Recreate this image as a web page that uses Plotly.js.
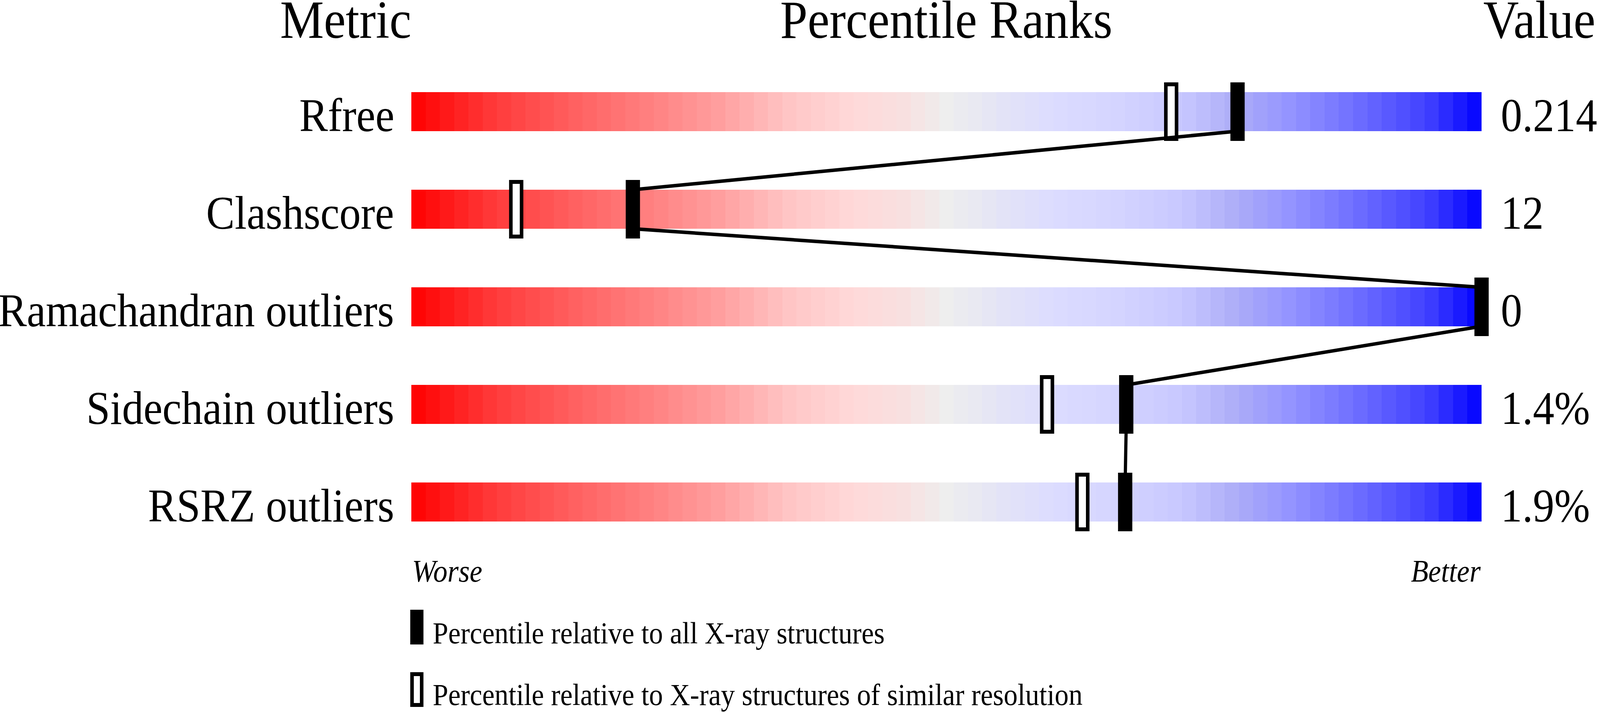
<!DOCTYPE html>
<html>
<head>
<meta charset="utf-8">
<script src="https://cdn.plot.ly/plotly-3.0.1.min.js"></script>
<style>
  html, body { margin: 0; padding: 0; background: #fff; overflow: hidden; }
  #slider { width: 4485px; height: 1824px; transform-origin: 0 0; }
</style>
</head>
<body>
<div id="slider"></div>
<script>
// Metric rows, top to bottom
const metrics = ["Rfree", "Clashscore", "Ramachandran outliers", "Sidechain outliers", "RSRZ outliers"];
const values = ["0.214", "12", "0", "1.4%", "1.9%"];
// Percentile relative to all X-ray structures (filled markers)
const pctAll = [77.2, 20.7, 100, 66.8, 66.7];
// Percentile relative to structures of similar resolution (open markers)
const pctSimilar = [71.0, 9.8, null, 59.4, 62.7];

// Colour ramp of the slider bars (worse -> better)
const rampPos = [0, 0.08, 0.16, 0.22, 0.29, 0.35, 0.41, 0.46, 0.5, 0.55, 0.6, 0.66, 0.72, 0.77, 0.82, 0.88, 0.95, 1];
const rampColors = ["#ff0000", "#ff3c3c", "#ff6464", "#ff7f7f", "#ffa0a0", "#ffc4c4", "#ffd8d8", "#f8e0e0", "#eeeeee",
                    "#e4e4f6", "#dcdcff", "#d4d4ff", "#c8c8ff", "#adadf8", "#9494ff", "#7070ff", "#4040ff", "#0000ff"];
const rampSteps = 75;

const font = "Liberation Serif, 'Times New Roman', serif";
const barHalf = 0.2;      // half bar thickness, in row units

// the chart is laid out at 4485 wide; squeeze it into the window if that is narrower
const fullW = 4485, fullH = 1824;
const sx = Math.min(1, window.innerWidth / fullW);
document.getElementById("slider").style.transform = "scale(" + sx + ", 1)";

// the bars themselves, one banded heatmap per metric
let edges = [];
let mids = [];
for (let i = 0; i <= rampSteps; i++) edges.push(i * 100 / rampSteps);
for (let i = 0; i < rampSteps; i++) mids.push((edges[i] + edges[i + 1]) / 2);
const colorscale = rampPos.map((p, i) => [p, rampColors[i]]);

let data = [];
metrics.forEach((m, k) => {
    data.push({
        type: "heatmap",
        x: edges,
        y: [k - barHalf, k + barHalf],
        z: [mids],
        zmin: 0, zmax: 100,
        colorscale: colorscale,
        showscale: false,
        hoverinfo: "skip"
    });
});

// open markers (similar resolution)
const rows = metrics.map((m, k) => k);
const simRows = rows.filter(k => pctSimilar[k] !== null);
data.push({
    type: "bar",
    orientation: "h",
    y: simRows,
    base: simRows.map(k => pctSimilar[k] - 0.5),
    x: simRows.map(() => 1.0),
    width: 0.56,
    marker: { color: "#ffffff", line: { color: "#000000", width: 10 } },
    cliponaxis: false,
    hoverinfo: "skip"
});
// filled markers (all X-ray structures)
data.push({
    type: "bar",
    orientation: "h",
    y: rows,
    base: pctAll.map(p => p - 0.667),
    x: pctAll.map(() => 1.333),
    width: 0.6,
    marker: { color: "#000000", line: { width: 0 } },
    cliponaxis: false,
    hoverinfo: "skip"
});

// line joining the filled markers: bottom edge of one bar to top edge of the next
let lx = [], ly = [];
pctAll.forEach((p, k) => {
    if (k > 0) { lx.push(p); ly.push(k - barHalf); }
    if (k < pctAll.length - 1) { lx.push(p); ly.push(k + barHalf); }
});
data.push({
    type: "scatter",
    mode: "lines",
    x: lx,
    y: ly,
    line: { color: "#000000", width: 9 },
    cliponaxis: false,
    hoverinfo: "skip"
});

let annotations = [];
metrics.forEach((m, k) => {
    annotations.push({
        text: m, xref: "x", x: 0, xanchor: "right", xshift: -46,
        yref: "y", y: k, yanchor: "middle", yshift: -9.5,
        showarrow: false, font: { family: font, size: 120, color: "#000" }
    });
    annotations.push({
        text: values[k], xref: "x", x: 100, xanchor: "left", xshift: 52,
        yref: "y", y: k, yanchor: "middle", yshift: -9.5,
        showarrow: false, font: { family: font, size: 120, color: "#000" }
    });
});

// column headers (paper units: plot area is 3030 px wide starting at 1153)
const headers = [["Metric", -0.0607, "center"], ["Percentile Ranks", 0.495, "center"], ["Value", 0.9911, "left"]];
headers.forEach(h => {
    annotations.push({
        text: h[0], xref: "paper", x: h[1], xanchor: h[2],
        yref: "paper", y: 1, yanchor: "middle", yshift: 111,
        showarrow: false, font: { family: font, size: 138, color: "#000" }
    });
});

// worse / better
annotations.push({
    text: "Worse", xref: "x", x: 0, xanchor: "left",
    yref: "paper", y: 0, yanchor: "middle", yshift: -52,
    showarrow: false, font: { family: font, size: 80, style: "italic", color: "#000" }
});
annotations.push({
    text: "Better", xref: "x", x: 100, xanchor: "right",
    yref: "paper", y: 0, yanchor: "middle", yshift: -52,
    showarrow: false, font: { family: font, size: 80, style: "italic", color: "#000" }
});

// key
annotations.push({
    text: "Percentile relative to all X-ray structures", xref: "x", x: 0, xanchor: "left", xshift: 58,
    yref: "paper", y: 0, yanchor: "middle", yshift: -210,
    showarrow: false, font: { family: font, size: 78, color: "#000" }
});
annotations.push({
    text: "Percentile relative to X-ray structures of similar resolution", xref: "x", x: 0, xanchor: "left", xshift: 58,
    yref: "paper", y: 0, yanchor: "middle", yshift: -368,
    showarrow: false, font: { family: font, size: 78, color: "#000" }
});

const shapes = [
    {
        type: "rect", xref: "paper", yref: "paper",
        xsizemode: "pixel", xanchor: 0, x0: -3, x1: 34,
        ysizemode: "pixel", yanchor: 0, y0: -151, y1: -240,
        fillcolor: "#000000", line: { width: 0 }
    },
    {
        type: "rect", xref: "paper", yref: "paper",
        xsizemode: "pixel", xanchor: 0, x0: 2, x1: 29,
        ysizemode: "pixel", yanchor: 0, y0: -316, y1: -395,
        fillcolor: "#ffffff", line: { color: "#000000", width: 10 }
    }
];

const layout = {
    width: fullW,
    height: fullH,
    // plot area: 30 px per percentile, with one spare percentile at the right for the end marker
    margin: { l: 1153, r: 302, t: 161, b: 413, pad: 0 },
    paper_bgcolor: "#ffffff",
    plot_bgcolor: "#ffffff",
    showlegend: false,
    barmode: "overlay",
    xaxis: { range: [0, 101], visible: false, fixedrange: true },
    yaxis: { range: [4.5, -0.5], visible: false, fixedrange: true },
    annotations: annotations,
    shapes: shapes
};

Plotly.newPlot("slider", data, layout, { staticPlot: true, displayModeBar: false });
</script>
</body>
</html>
